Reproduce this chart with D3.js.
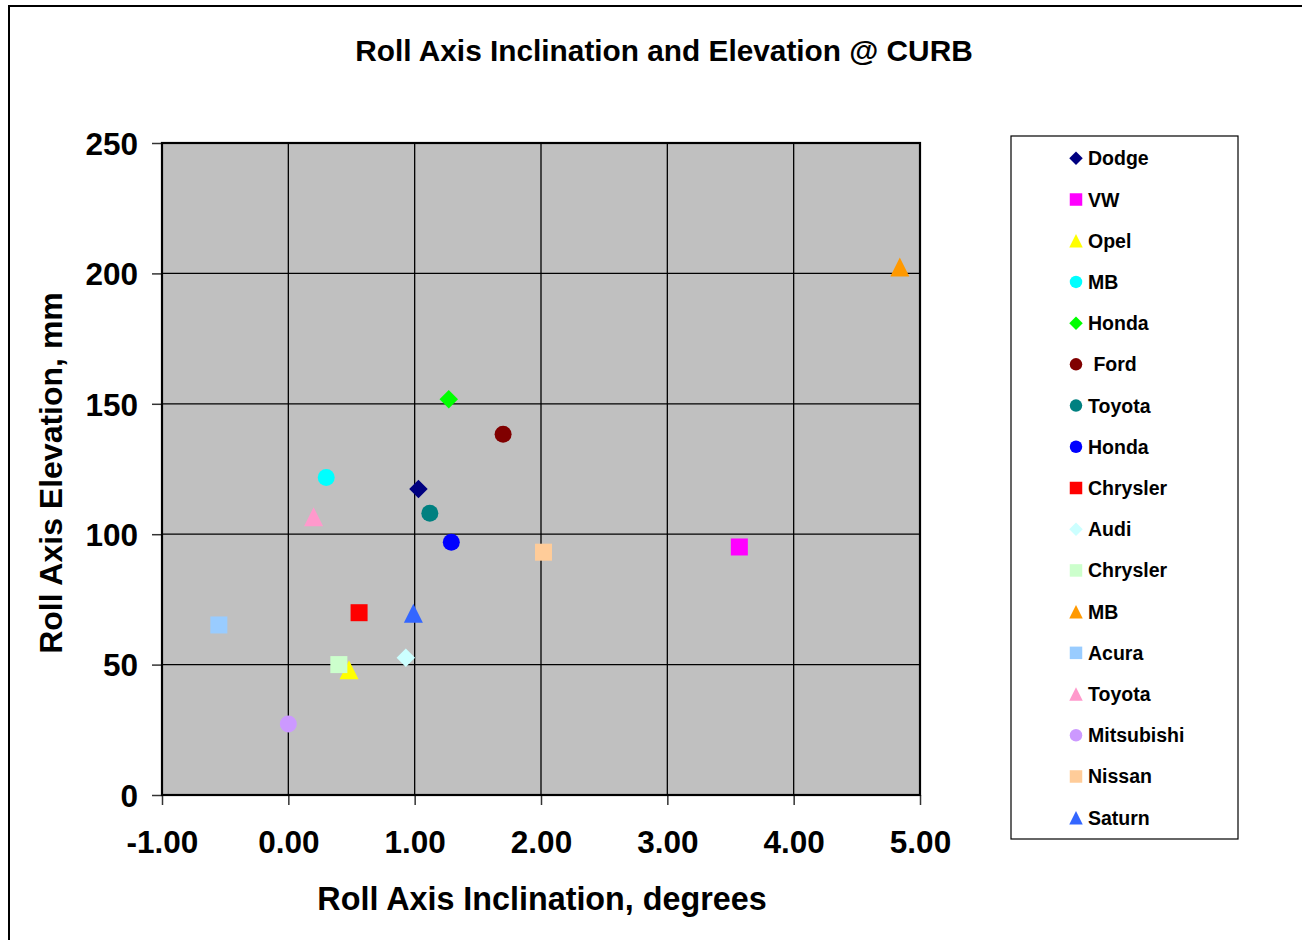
<!DOCTYPE html>
<html>
<head>
<meta charset="utf-8">
<title>Roll Axis Inclination and Elevation @ CURB</title>
<script src="https://d3js.org/d3.v7.min.js"></script>
<style>
    body { margin: 0; background: #fff; }
    svg text { font-family: "Liberation Sans", Arial, sans-serif; font-weight: bold; fill: #000; }
    .legend text { white-space: pre; }
</style>
</head>
<body>
<svg width="1302" height="940"></svg>
<script>
// ---- data ----
var makers = ["Dodge", "VW", "Opel", "MB", "Honda", " Ford", "Toyota", "Honda", "Chrysler",
              "Audi", "Chrysler", "MB", "Acura", "Toyota", "Mitsubishi", "Nissan", "Saturn"];
var inclination = [1.03, 3.57, 0.48, 0.30, 1.27, 1.70, 1.12, 1.29, 0.56,
                   0.93, 0.40, 4.84, -0.55, 0.20, 0.00, 2.02, 0.99];
var elevation = [117.3, 95.1, 48.0, 121.7, 151.7, 138.3, 108.0, 96.9, 69.9,
                 52.6, 50.0, 202.5, 65.2, 106.7, 27.2, 93.1, 69.7];
var markerShapes = ["diamond", "square", "triangle", "circle", "diamond", "circle", "circle", "circle", "square",
                    "diamond", "square", "triangle", "square", "triangle", "circle", "square", "triangle"];
var markerColors = ["#000080", "#FF00FF", "#FFFF00", "#00FFFF", "#00FF00", "#800000", "#008080", "#0000FF", "#FF0000",
                    "#CCFFFF", "#CCFFCC", "#FF9900", "#99CCFF", "#FF99CC", "#CC99FF", "#FFCC99", "#3366FF"];
var xTicks = [-1, 0, 1, 2, 3, 4, 5];
var yTicks = [0, 50, 100, 150, 200, 250];

var points = makers.map(function (m, i) {
    return {name: m, x: inclination[i], y: elevation[i], shape: markerShapes[i], color: markerColors[i]};
});

var svg = d3.select("svg");

// outer chart frame
svg.append("rect")
    .attr("x", 9).attr("y", 6)
    .attr("width", 1400).attr("height", 1000)
    .attr("fill", "none").attr("stroke", "#000").attr("stroke-width", 2);

var plot = {left: 162, right: 920, top: 143, bottom: 795};

var x = d3.scaleLinear().domain([-1, 5]).range([plot.left, plot.right]);
var y = d3.scaleLinear().domain([0, 250]).range([plot.bottom, plot.top]);

// marker outline around (0,0), s = full width
function shapePath(shape, s) {
    var h = s / 2;
    if (shape === "square") return "M" + (-h) + "," + (-h) + "h" + s + "v" + s + "h" + (-s) + "Z";
    if (shape === "diamond") return "M0," + (-h) + "L" + h + ",0L0," + h + "L" + (-h) + ",0Z";
    if (shape === "triangle") return "M0," + (-h) + "L" + h + "," + h + "L" + (-h) + "," + h + "Z";
    // circle
    return "M" + (-h) + ",0a" + h + "," + h + " 0 1,0 " + s + ",0a" + h + "," + h + " 0 1,0 " + (-s) + ",0Z";
}
var markerSize = {square: 17, circle: 17, diamond: 18.5, triangle: 19};
var legendSize = {square: 12.5, circle: 12.5, diamond: 13.5, triangle: 13.5};

// plot area
svg.append("rect")
    .attr("x", plot.left).attr("y", plot.top)
    .attr("width", plot.right - plot.left).attr("height", plot.bottom - plot.top)
    .attr("fill", "#C0C0C0");

// gridlines
svg.append("g").selectAll("line")
    .data(xTicks.slice(1, -1)).enter().append("line")
    .attr("x1", function (d) { return x(d); }).attr("x2", function (d) { return x(d); })
    .attr("y1", plot.top).attr("y2", plot.bottom)
    .attr("stroke", "#000").attr("stroke-width", 1.3);
svg.append("g").selectAll("line")
    .data(yTicks.slice(1, -1)).enter().append("line")
    .attr("y1", function (d) { return y(d); }).attr("y2", function (d) { return y(d); })
    .attr("x1", plot.left).attr("x2", plot.right)
    .attr("stroke", "#000").attr("stroke-width", 1.3);

// axes (hyphen-minus like the original, not the unicode minus)
var fmt = d3.format(".2f");
var xAxis = svg.append("g")
    .attr("transform", "translate(0," + plot.bottom + ")")
    .call(d3.axisBottom(x).tickValues(xTicks).tickSize(10).tickPadding(26)
        .tickFormat(function (d) { return fmt(d).replace("\u2212", "-"); }));
var yAxis = svg.append("g")
    .attr("transform", "translate(" + plot.left + ",0)")
    .call(d3.axisLeft(y).tickValues(yTicks).tickSize(10).tickPadding(14));
[xAxis, yAxis].forEach(function (ax) {
    ax.select(".domain").remove();
    ax.selectAll(".tick line").attr("stroke", "#333").attr("stroke-width", 1.5);
    ax.selectAll(".tick text").attr("font-size", 31.5).attr("font-family", null);
});
xAxis.selectAll(".tick text").attr("dy", "0.71em");
yAxis.selectAll(".tick text").attr("dy", "0.36em");

// plot border
svg.append("rect")
    .attr("x", plot.left).attr("y", plot.top)
    .attr("width", plot.right - plot.left).attr("height", plot.bottom - plot.top)
    .attr("fill", "none").attr("stroke", "#000").attr("stroke-width", 2.2);

// points
svg.append("g").selectAll("path")
    .data(points).enter().append("path")
    .attr("transform", function (d) { return "translate(" + x(d.x) + "," + y(d.y) + ")"; })
    .attr("d", function (d) { return shapePath(d.shape, markerSize[d.shape]); })
    .attr("fill", function (d) { return d.color; });

// titles
svg.append("text")
    .attr("x", 664).attr("y", 61)
    .attr("text-anchor", "middle").attr("font-size", 29.8)
    .text("Roll Axis Inclination and Elevation @ CURB");
svg.append("text")
    .attr("x", (plot.left + plot.right) / 2 + 1).attr("y", 910)
    .attr("text-anchor", "middle").attr("font-size", 32.3)
    .text("Roll Axis Inclination, degrees");
svg.append("text")
    .attr("transform", "translate(62," + ((plot.top + plot.bottom) / 2 + 4) + ") rotate(-90)")
    .attr("text-anchor", "middle").attr("font-size", 32)
    .text("Roll Axis Elevation, mm");

// legend
var legend = svg.append("g").attr("class", "legend");
legend.append("rect")
    .attr("x", 1011).attr("y", 136).attr("width", 227).attr("height", 703)
    .attr("fill", "#fff").attr("stroke", "#000").attr("stroke-width", 1.2);
var rowY = d3.scalePoint().domain(d3.range(points.length)).range([158.3, 817.7]);
var rows = legend.selectAll("g.row")
    .data(points).enter().append("g")
    .attr("class", "row")
    .attr("transform", function (d, i) { return "translate(1076," + rowY(i) + ")"; });
rows.append("path")
    .attr("d", function (d) { return shapePath(d.shape, legendSize[d.shape]); })
    .attr("fill", function (d) { return d.color; });
rows.append("text")
    .attr("x", 12).attr("y", 7)
    .attr("font-size", 19.5)
    .text(function (d) { return d.name; });
</script>
</body>
</html>
